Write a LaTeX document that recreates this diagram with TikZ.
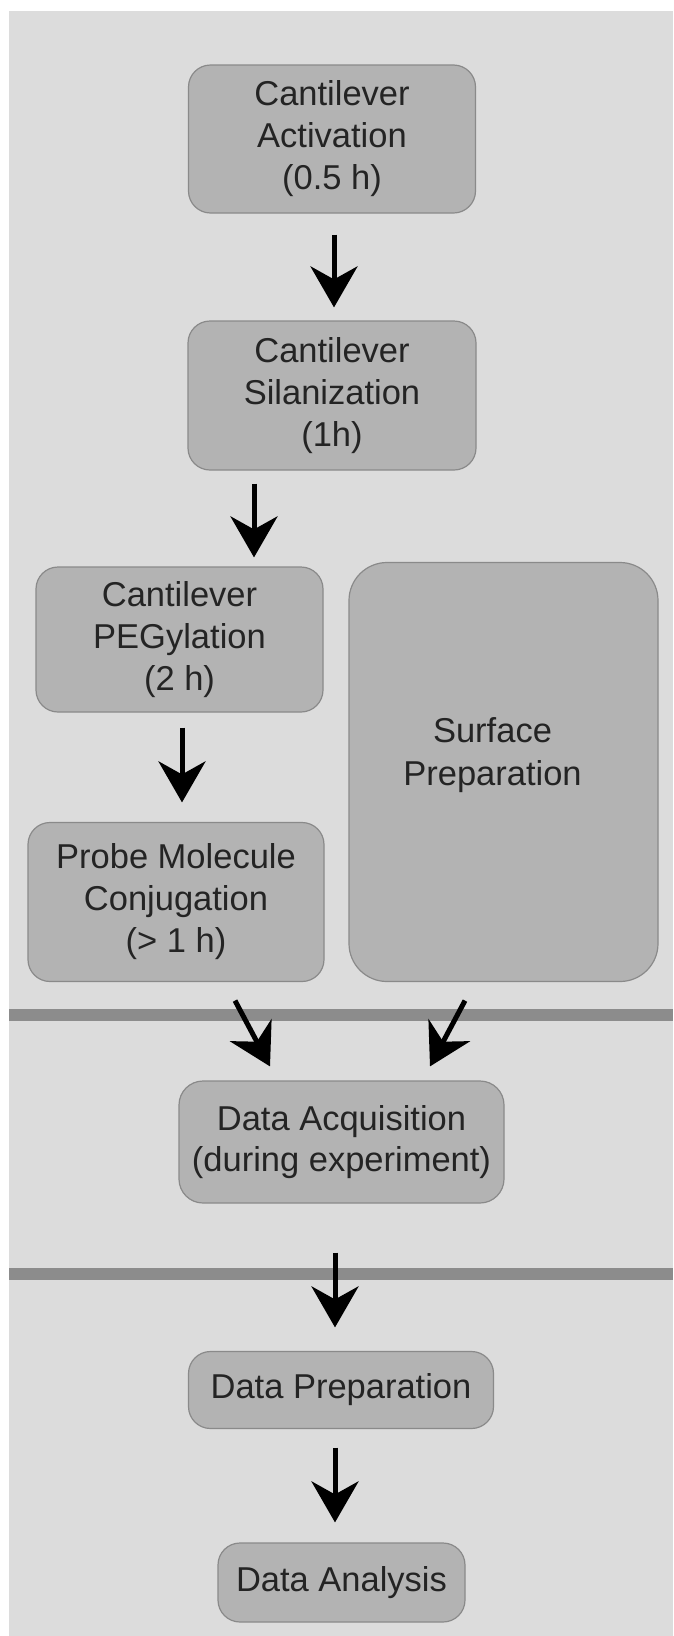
\documentclass[tikz,border=0pt]{standalone}
\usepackage{fontspec}
\setmainfont{Liberation Sans}
\usetikzlibrary{arrows.meta,calc}
\definecolor{bgc}{HTML}{DCDCDC}
\definecolor{boxc}{HTML}{B3B3B3}
\definecolor{edgec}{HTML}{8A8A8A}
\definecolor{sepc}{HTML}{8C8C8C}
\definecolor{txtc}{HTML}{242424}
\begin{document}
\begin{tikzpicture}[x=1pt,y=-1pt,
  stepbox/.style={draw=edgec, line width=1.2pt, fill=boxc, rounded corners=22pt,
    align=center, inner sep=0pt, text=txtc, font=\fontsize{34.5}{42}\selectfont},
  arr/.style={line width=5pt, -{Stealth[length=41pt,width=47pt,inset=13pt]}},
  sep/.style={sepc, line width=12pt}]
\useasboundingbox (0,0) rectangle (673,1636);
\fill[white] (0,0) rectangle (673,1636);
\fill[bgc] (9,11) rectangle (673,1636);

% separators
\coordinate (s1l) at (9,1015);
\coordinate (s1r) at (673,1015);
\coordinate (s2l) at (9,1274);
\coordinate (s2r) at (673,1274);
\draw[sep] (s1l) -- (s1r);
\draw[sep] (s2l) -- (s2r);

% boxes
\node[stepbox, minimum width=287pt, minimum height=148pt] (b1) at (332,139)
  {Cantilever\\Activation\\(0.5 h)};
\node[stepbox, minimum width=288pt, minimum height=149pt] (b2) at (332,395.5)
  {Cantilever\\Silanization\\(1h)};
\node[stepbox, minimum width=287pt, minimum height=145pt] (b3) at (179.5,639.5)
  {Cantilever\\PEGylation\\(2 h)};
\node[stepbox, minimum width=296pt, minimum height=159pt] (b4) at (176,902)
  {Probe Molecule\\Conjugation\\(> 1 h)};
\node[stepbox, rounded corners=38pt, minimum width=309pt, minimum height=419pt,
  label={[align=center, text=txtc, font=\fontsize{34.5}{43}\selectfont,
    xshift=-11pt, yshift=17pt]center:Surface\\Preparation}] (surf) at (503.5,772) {};
\node[stepbox, rounded corners=24pt, minimum width=325pt, minimum height=122pt,
  font=\fontsize{34.5}{41}\selectfont] (b5) at (341.5,1142)
  {Data Acquisition\\(during experiment)};
\node[stepbox, minimum width=305pt, minimum height=77pt] (b6) at (341,1390)
  {Data Preparation};
\node[stepbox, minimum width=247pt, minimum height=79pt] (b7) at (341.5,1582.5)
  {Data Analysis};

% arrows
\draw[arr] ($(b1.south)+(2,21)$) -- ($(b2.north)+(2,-13)$);
\draw[arr] ($(b2.south)+(-78,13)$) -- ($(b3.north)+(74.5,-9)$);
\draw[arr] ($(b3.south)+(2.5,15)$) -- ($(b4.north)+(6,-19.5)$);
\draw[arr] ($(b4.south)+(59,18.5)$) -- ($(b5.north)+(-71.5,-14)$);
\draw[arr] ($(surf.south)+(-38.5,18.5)$) -- ($(b5.north)+(88.5,-14)$);
\draw[arr] ($(b5.south)+(-6.5,49)$) -- ($(b6.north)+(-6,-23.5)$);
\draw[arr] ($(b6.south)+(-6,18.5)$) -- ($(b7.north)+(-6.5,-20)$);
\end{tikzpicture}
\end{document}
